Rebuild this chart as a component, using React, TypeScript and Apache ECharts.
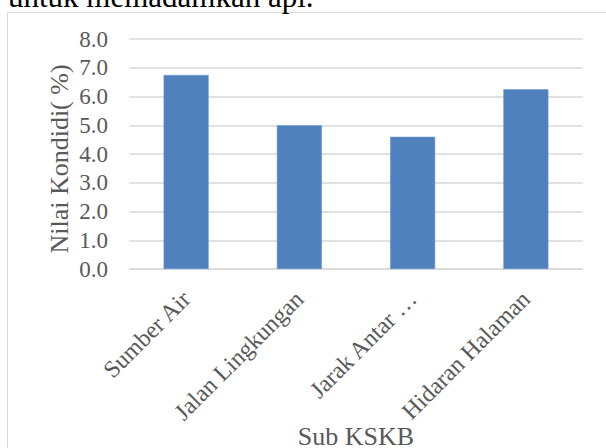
import React, { useEffect, useRef } from "react";
import * as echarts from "echarts";

const categories = ["Sumber Air", "Jalan Lingkungan", "Jarak Antar …", "Hidaran Halaman"];
const values = [6.75, 5.0, 4.6, 6.25];
const yMin = 0;
const yMax = 8;
const yStep = 1;
const xTitle = "Sub KSKB";
const yTitle = "Nilai Kondidi( %)";
const topText = "untuk memadamkan api.";

const FONT = "'Liberation Serif', 'Times New Roman', serif";
const TEXT = "#595959";
const GRID = "#d9d9d9";

export default function App() {
  const ref = useRef<HTMLDivElement>(null);
  useEffect(() => {
    if (!ref.current) return;
    const chart = echarts.init(ref.current, undefined, { renderer: "svg" });
    chart.setOption({
      animation: false,
      backgroundColor: "#ffffff",
      grid: { left: 129.5, right: 23.5, top: 39, bottom: 179, containLabel: false },
      xAxis: {
        type: "category",
        data: categories,
        axisLine: { show: true, lineStyle: { color: GRID, width: 1.5 } },
        axisTick: { show: false },
        axisLabel: {
          rotate: 45,
          interval: 0,
          margin: 26,
          fontFamily: FONT,
          fontSize: 24,
          color: TEXT,
        },
      },
      yAxis: {
        type: "value",
        min: yMin,
        max: yMax,
        interval: yStep,
        axisLine: { show: false },
        axisTick: { show: false },
        splitLine: { show: true, lineStyle: { color: GRID, width: 1.5 } },
        axisLabel: {
          margin: 21.5,
          fontFamily: FONT,
          fontSize: 23,
          color: TEXT,
          formatter: (v: number) => v.toFixed(1),
        },
      },
      series: [
        {
          type: "bar",
          data: values,
          barWidth: 45,
          itemStyle: { color: "#4f81bd", borderColor: "#6a96cc", borderWidth: 0.5 },
        },
      ],
      graphic: [
        {
          type: "rect",
          silent: true,
          shape: { x: 7.5, y: 12.5, width: 640, height: 480 },
          style: { fill: "none", stroke: GRID, lineWidth: 1 },
        },
        {
          type: "text",
          x: 8,
          y: -4,
          style: {
            text: topText,
            font: `31px ${FONT}`,
            fill: "#000000",
            textAlign: "left",
            textVerticalAlign: "middle",
          },
        },
        {
          type: "text",
          x: 356,
          y: 436,
          style: {
            text: xTitle,
            font: `26px ${FONT}`,
            fill: TEXT,
            textAlign: "center",
            textVerticalAlign: "middle",
          },
        },
        {
          type: "text",
          x: 59.5,
          y: 159,
          rotation: Math.PI / 2,
          style: {
            text: yTitle,
            font: `26px ${FONT}`,
            fill: TEXT,
            textAlign: "center",
            textVerticalAlign: "middle",
          },
        },
      ],
    });
    return () => chart.dispose();
  }, []);
  return (
    <div
      ref={ref}
      style={{ position: "fixed", left: 0, top: 0, width: 606, height: 448 }}
    />
  );
}
